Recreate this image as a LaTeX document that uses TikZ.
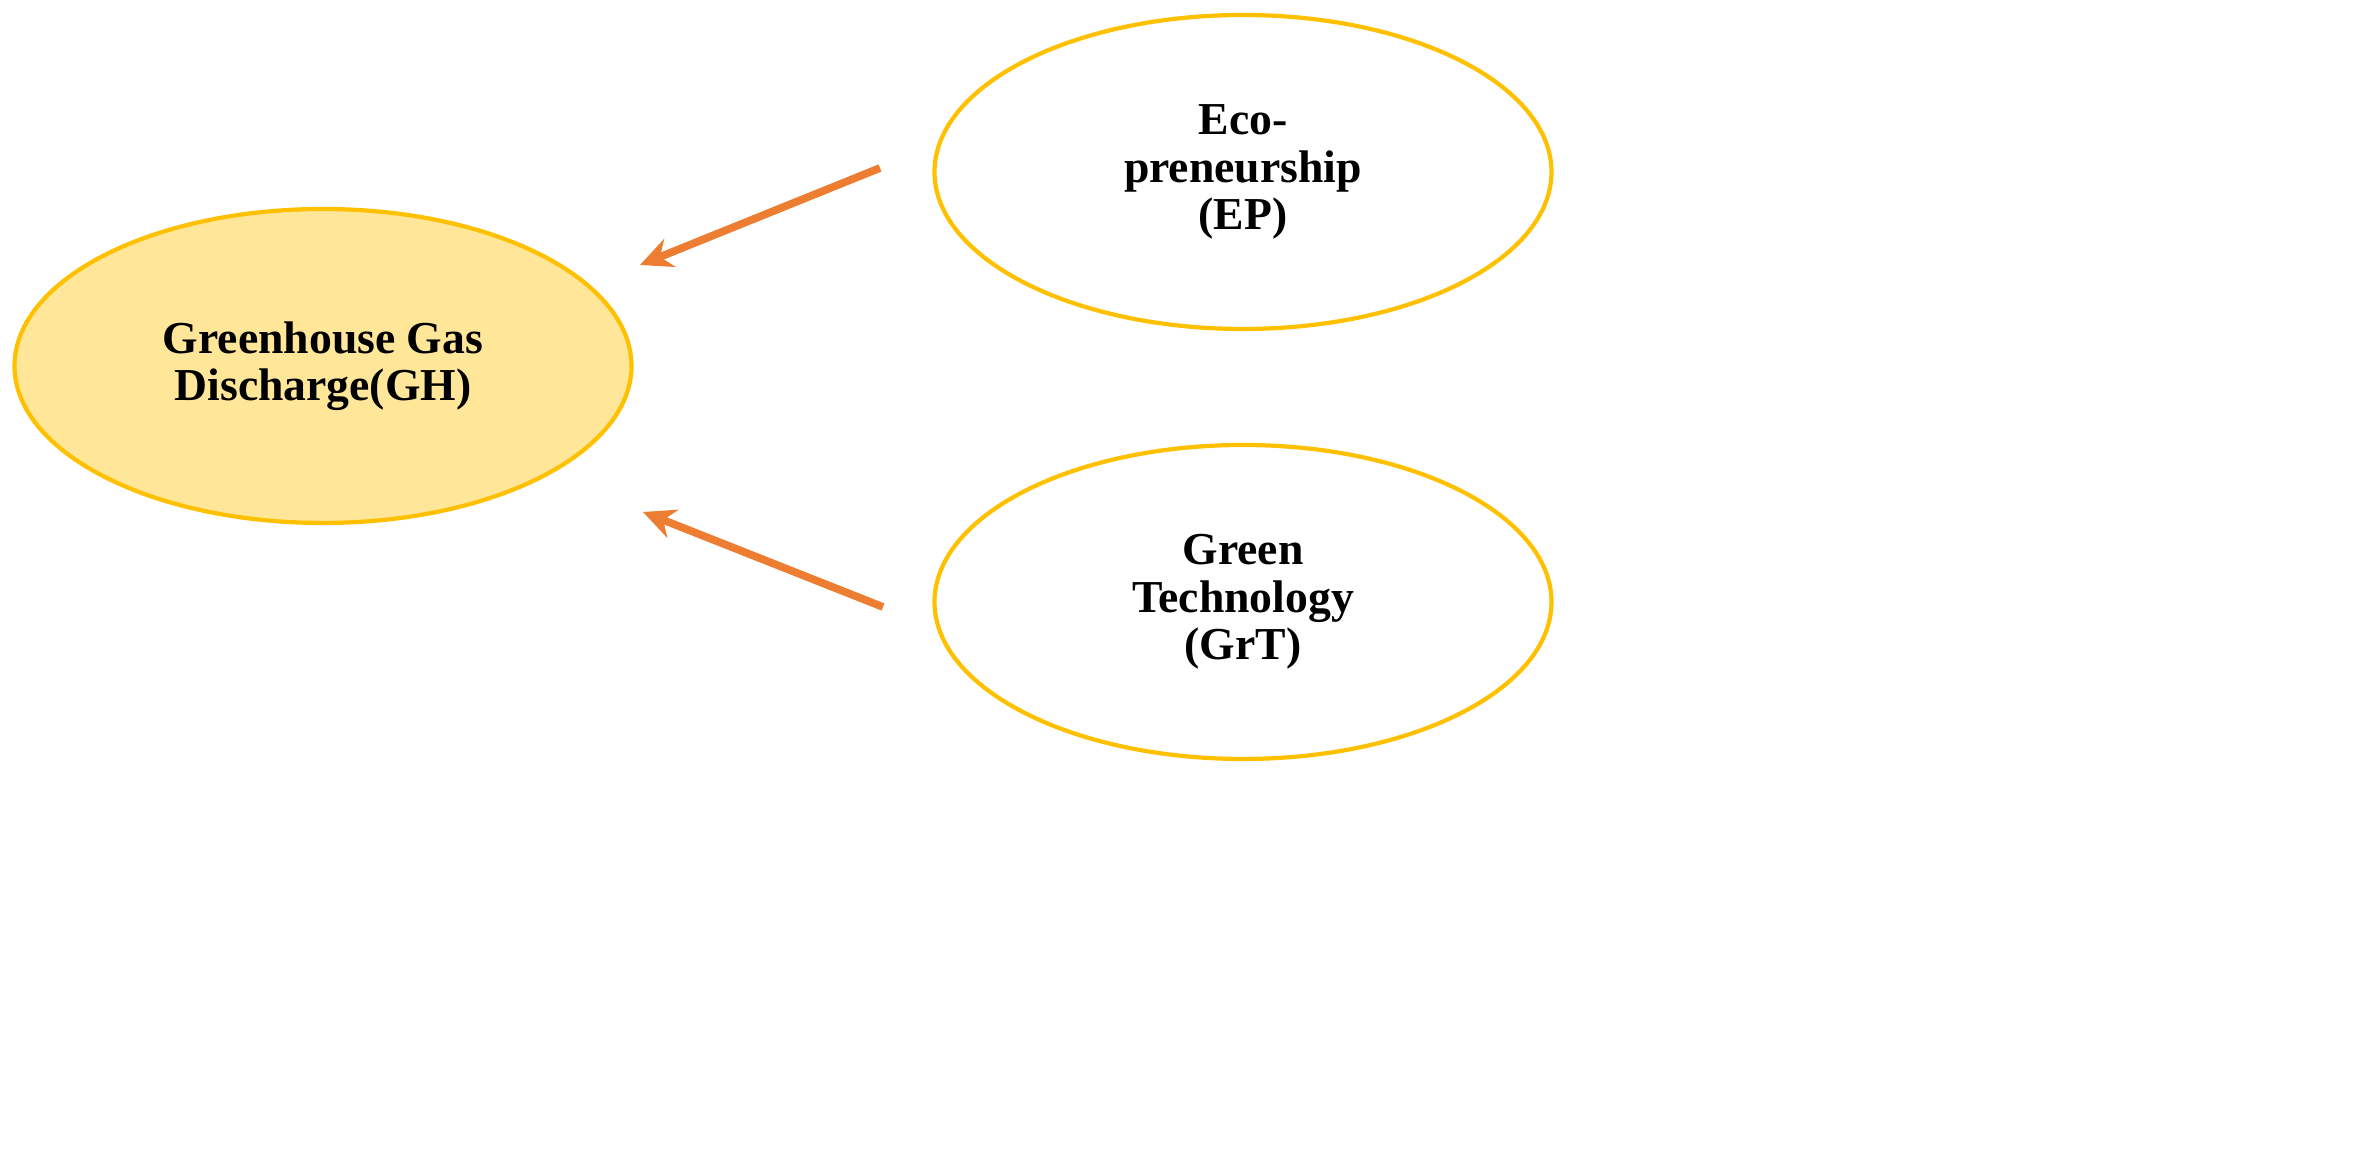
\documentclass[tikz,border=0pt]{standalone}
\usepackage{fontspec}
\setmainfont{Liberation Serif}
\usetikzlibrary{arrows.meta,shapes.geometric}
\definecolor{gold}{HTML}{FFC000}
\definecolor{lightgold}{HTML}{FFE699}
\definecolor{arr}{HTML}{ED7D31}
\tikzset{
  oval/.style={ellipse, draw=gold, line width=1.2pt, minimum width=6.17cm, minimum height=3.14cm, align=center, font=\fontsize{13}{13.5}\selectfont\bfseries},
  arrline/.style={draw=arr, line width=2.2pt, -{Stealth[length=0.32cm,width=0.3cm]}}
}
\begin{document}
\begin{tikzpicture}
\useasboundingbox (0,0) rectangle (23.55,11.67);
\node[oval, fill=lightgold] (gh) at (3.23,8.01) {Greenhouse Gas\\Discharge(GH)};
\node[oval, fill=white] (ep) at (12.43,9.95) {Eco-\\preneurship\\(EP)};
\node[oval, fill=white] (grt) at (12.43,5.65) {Green\\Technology\\(GrT)};
\coordinate (a1s) at (8.80,9.99);
\coordinate (a1e) at (6.40,9.02);
\coordinate (a2s) at (8.83,5.60);
\coordinate (a2e) at (6.43,6.55);
\draw[arrline] (a1s) -- (a1e);
\draw[arrline] (a2s) -- (a2e);
\end{tikzpicture}
\end{document}
